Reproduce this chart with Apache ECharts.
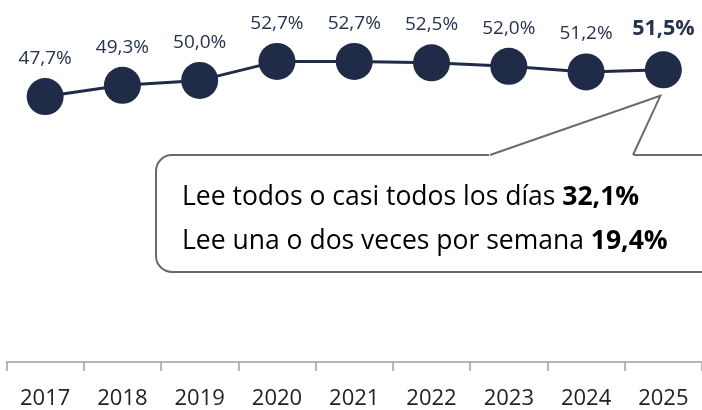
<!DOCTYPE html>
<html lang="es">
<head>
    <meta charset="UTF-8">
    <title>Lectores frecuentes</title>
    <script type="text/javascript" src="https://cdn.jsdelivr.net/npm/echarts@6/dist/echarts.min.js"></script>
    <style>
        html, body { margin: 0; padding: 0; background: #fff; }
    </style>
</head>
<body>
    <div id="charts" style="width:702px;height:410px;"></div>
</body>
<script type="text/javascript">
    // datos
    var years = ['2017', '2018', '2019', '2020', '2021', '2022', '2023', '2024', '2025'];
    var values = [47.7, 49.3, 50.0, 52.7, 52.7, 52.5, 52.0, 51.2, 51.5];
    var calloutText = ['Lee todos o casi todos los días', 'Lee una o dos veces por semana'];
    var calloutValues = ['32,1%', '19,4%'];

    var navy = '#1f2b47';
    var font = 'Open Sans';

    function pct(v) {
        return v.toFixed(1).replace('.', ',') + '%';
    }

    var myChart = echarts.init(document.getElementById('charts'));

    var option = {
        animation: false,
        grid: { left: 6.5, right: -2, top: 10, bottom: 46 },
        xAxis: {
            type: 'category',
            data: years,
            boundaryGap: true,
            axisLine: { lineStyle: { color: '#a0a0a0', width: 1.5 } },
            axisTick: { show: true, interval: 0, length: 9, lineStyle: { color: '#a0a0a0', width: 1.5 } },
            axisLabel: { interval: 0, margin: 26, color: '#222', fontSize: 22, fontFamily: font }
        },
        yAxis: {
            type: 'value',
            min: 10,
            max: 60,
            show: false
        },
        series: [{
            type: 'line',
            data: values.map(function (v, i) {
                var item = { value: v };
                if (i === values.length - 1) {
                    item.label = { fontWeight: 'bold', fontSize: 21.5, distance: 11 };
                }
                return item;
            }),
            symbol: 'circle',
            symbolSize: 37,
            itemStyle: { color: navy },
            lineStyle: { color: navy, width: 3 },
            label: {
                show: true,
                position: 'top',
                distance: 10,
                color: '#27324d',
                fontSize: 19,
                fontFamily: font,
                formatter: function (p) { return pct(p.value); }
            }
        }]
    };

    myChart.setOption(option);

    // globo de texto apuntando al ultimo punto
    var last = myChart.convertToPixel({ seriesIndex: 0 }, [years.length - 1, values[values.length - 1]]);
    var tip = [last[0] - 3, last[1] + 26];
    var bx = 156, by = 155, bb = 272;
    var stroke = '#6b6b6b';

    myChart.setOption({
        graphic: [{
            type: 'rect',
            shape: { x: bx, y: by, width: 600, height: bb - by, r: 16 },
            style: { fill: '#fff', stroke: stroke, lineWidth: 2 },
            z: 10
        }, {
            // tapa el borde bajo la punta
            type: 'polygon',
            shape: { points: [[489, by + 1.3], [489, by - 1.3], tip, [634, by - 1.3], [634, by + 1.3]] },
            style: { fill: '#fff' },
            z: 11
        }, {
            type: 'polyline',
            shape: { points: [[490, by], tip, [633, by]] },
            style: { stroke: stroke, lineWidth: 2, fill: null },
            z: 12
        }, {
            type: 'text',
            left: 182,
            top: 184,
            z: 13,
            style: {
                text: '{n|' + calloutText[0] + ' }{b|' + calloutValues[0] + '}\n{n|' + calloutText[1] + ' }{b|' + calloutValues[1] + '}',
                rich: {
                    n: { fontSize: 26.5, fontFamily: font, color: '#111', lineHeight: 44 },
                    b: { fontSize: 26.5, fontFamily: font, color: '#111', fontWeight: 'bold', lineHeight: 44 }
                }
            }
        }]
    });
</script>
</html>
